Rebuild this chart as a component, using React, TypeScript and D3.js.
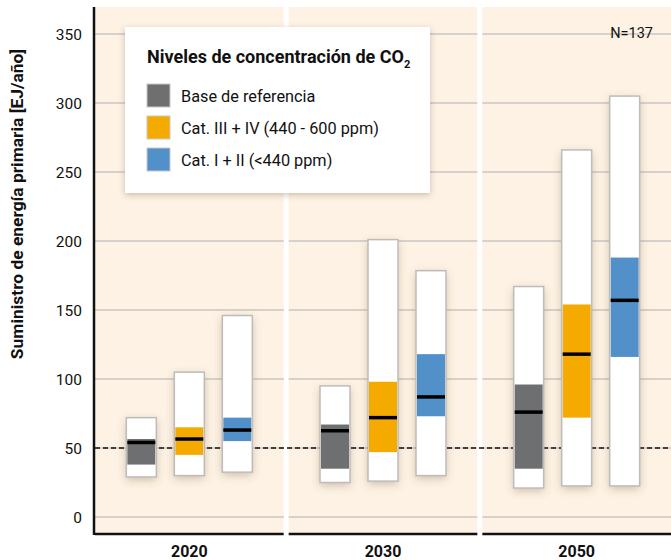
import * as d3 from "d3"

const years = ["2020", "2030", "2050"]
const categories = ["Base de referencia", "Cat. III + IV (440 - 600 ppm)", "Cat. I + II (<440 ppm)"]
const colors = ["#6e6f71", "#f5aa00", "#5190c9"]

// per category, one value per year
const minVals = [[29, 25, 21], [30, 26, 22.5], [32.5, 30, 22.5]]
const lowVals = [[38, 35, 35], [45, 47, 72], [55, 73, 116]]
const medVals = [[54, 62.5, 76], [56.5, 72, 118], [63, 87, 157]]
const highVals = [[56.5, 67, 96], [65, 98, 154], [72, 118, 188]]
const maxVals = [[72, 95, 167], [105, 201, 266], [146, 178.5, 305]]

const yTicks = [0, 50, 100, 150, 200, 250, 300, 350]
const refLine = 50

const W = 671
const H = 560
const font = "Roboto, 'Open Sans', sans-serif"

const App = () => {
  const y = d3.scaleLinear().domain([0, 350]).range([517, 34])
  const x0 = d3.scaleBand().domain(years).range([95, 671]).paddingInner(0.026)
  const x1 = d3.scalePoint().domain(categories).range([-48, 48])
  const boxW = 30
  const top = 7
  const bottom = 534

  return (
    <svg width={W} height={H} style={{ position: "absolute", left: 0, top: 0 }} fontFamily={font}>
      <defs>
        <filter id="shadow" x="-50%" y="-50%" width="200%" height="200%">
          <feDropShadow dx="0" dy="3" stdDeviation="4" floodColor="#7a5a3a" floodOpacity="0.35" />
        </filter>
        <filter id="lshadow" x="-20%" y="-20%" width="140%" height="140%">
          <feDropShadow dx="0" dy="2" stdDeviation="3" floodColor="#6a5a4a" floodOpacity="0.35" />
        </filter>
      </defs>
      <rect width={W} height={H} fill="#fff" />

      {years.map((yr) => {
        const px = x0(yr) as number
        return (
          <g key={yr}>
            <rect x={px} y={top} width={x0.bandwidth()} height={bottom - top} fill="#fdf2e3" />
            {yTicks.map((t) => (
              <line key={t} x1={px} x2={px + x0.bandwidth()} y1={y(t)} y2={y(t)} stroke="#c9c6c3" strokeWidth={1.5} />
            ))}
            <line x1={px} x2={px + x0.bandwidth()} y1={bottom} y2={bottom} stroke="#111" strokeWidth={2.5} />
            <text x={px + x0.bandwidth() / 2} y={557} textAnchor="middle" fontSize={16} fontWeight="bold" fill="#111">
              {yr}
            </text>
          </g>
        )
      })}

      <line x1={95} x2={W} y1={y(refLine)} y2={y(refLine)} stroke="#111" strokeWidth={1.6} strokeDasharray="5,3" />

      {years.map((yr, j) =>
        categories.map((c, i) => {
          const cx = (x0(yr) as number) + x0.bandwidth() / 2 + (x1(c) as number)
          const bx = cx - boxW / 2
          return (
            <g key={yr + c}>
              <rect x={bx} y={y(maxVals[i][j])} width={boxW} height={y(minVals[i][j]) - y(maxVals[i][j])}
                fill="#fff" filter="url(#shadow)" />
              <rect x={bx + 1} y={y(highVals[i][j])} width={boxW - 2} height={y(lowVals[i][j]) - y(highVals[i][j])}
                fill={colors[i]} />
              <rect x={bx} y={y(maxVals[i][j])} width={boxW} height={y(minVals[i][j]) - y(maxVals[i][j])}
                fill="none" stroke="#bdbcbb" strokeWidth={1.5} />
              <line x1={bx + 1} x2={bx + boxW - 1} y1={y(medVals[i][j])} y2={y(medVals[i][j])} stroke="#000" strokeWidth={3.5} />
            </g>
          )
        })
      )}

      <line x1={94} x2={94} y1={top} y2={bottom + 1} stroke="#111" strokeWidth={2.5} />
      {yTicks.map((t) => (
        <text key={t} x={82} y={y(t) + 5.5} textAnchor="end" fontSize={15.5} fill="#111">{t}</text>
      ))}
      <text transform={`translate(23,${204}) rotate(-90)`} textAnchor="middle" fontSize={17.4} fontWeight="bold" fill="#111">
        Suministro de energía primaria [EJ/año]
      </text>

      <text x={653} y={38} textAnchor="end" fontSize={14.5} fill="#111">N=137</text>

      <g>
        <rect x={125} y={27} width={305} height={166} fill="#fff" filter="url(#lshadow)" />
        <text x={147} y={63} fontSize={18} fontWeight="bold" fill="#111">
          Niveles de concentración de CO<tspan fontSize={11} dy={5}>2</tspan>
        </text>
        {categories.map((c, i) => (
          <g key={c}>
            <rect x={147} y={84 + i * 32} width={23} height={23} fill={colors[i]} stroke="#c8c8c8" strokeWidth={1} />
            <text x={181} y={101.5 + i * 32} fontSize={16.3} fill="#111">{c}</text>
          </g>
        ))}
      </g>
    </svg>
  )
}

export default App
